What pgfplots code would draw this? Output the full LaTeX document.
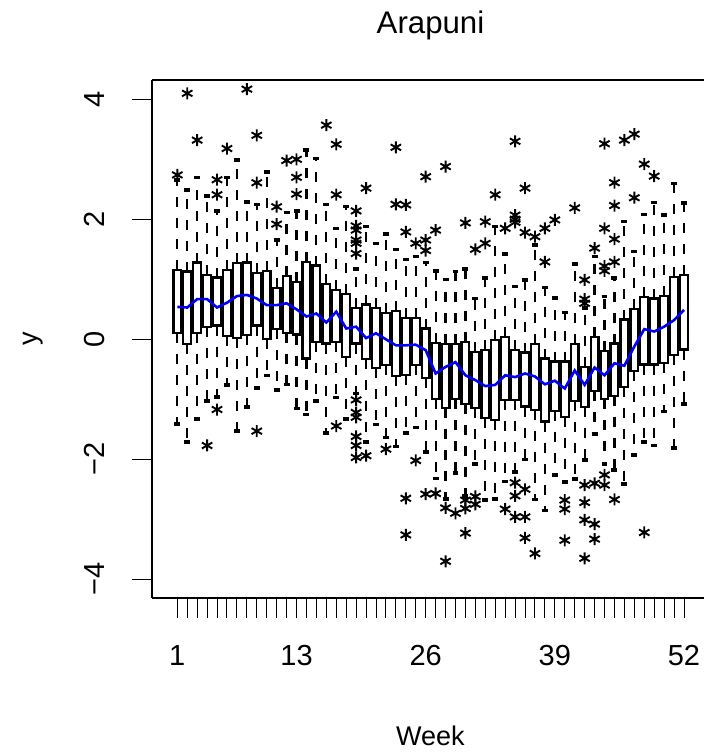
\documentclass[border=0pt]{standalone}
\usepackage{fontspec}
\setmainfont{Liberation Sans}
\usepackage{pgfplots}
\pgfplotsset{compat=1.18}
\usepgfplotslibrary{statistics}
\usepackage{pgfplotstable}

\pgfplotstableread{
week y
1 2.74
2 4.1
3 3.32
4 -1.77
5 2.66
5 2.41
5 -1.17
6 3.18
8 4.17
9 3.4
9 2.61
9 -1.53
11 2.21
11 1.92
12 2.98
13 3.0
13 2.7
13 2.42
16 3.57
17 3.25
17 2.41
17 -1.445
19 2.14
19 1.89
19 1.82
19 1.655
19 1.6
19 1.43
19 -1.01
19 -1.22
19 -1.3
19 -1.62
19 -1.77
19 -1.97
20 2.52
20 -1.94
22 -1.83
23 3.2
23 2.25
24 2.24
24 1.79
24 -2.65
24 -3.26
25 1.6
25 -2.02
26 2.71
26 1.655
26 1.48
26 -2.58
27 1.82
27 -2.57
28 2.88
28 -2.81
28 -3.7
29 -2.9
30 1.94
30 -2.68
30 -2.82
30 -3.23
31 1.5
31 -2.62
31 -2.75
32 1.96
32 1.6
33 2.41
34 1.85
34 -2.83
35 3.3
35 2.07
35 2.0
35 1.95
35 -2.39
35 -2.61
35 -2.96
36 2.52
36 1.78
36 -2.5
36 -2.96
36 -3.31
37 1.71
37 -3.57
38 1.85
38 1.29
39 1.99
40 -2.68
40 -2.83
40 -3.35
41 2.19
42 0.99
42 0.67
42 0.6
42 -2.43
42 -2.72
42 -3.01
42 -3.65
43 1.52
43 -2.4
43 -3.08
43 -3.33
44 3.26
44 1.85
44 1.22
44 1.14
44 -2.26
44 -2.43
45 2.61
45 2.23
45 1.67
45 1.29
45 -2.67
46 3.32
47 3.42
47 2.36
48 2.92
48 -3.22
49 2.72
}\outliers

\pgfplotstableread{
week med
1 0.54
2 0.53
3 0.67
4 0.67
5 0.53
6 0.61
7 0.72
8 0.74
9 0.68
10 0.57
11 0.57
12 0.60
13 0.50
14 0.38
15 0.43
16 0.28
17 0.46
18 0.18
19 0.21
20 0.02
21 0.10
22 0.00
23 -0.10
24 -0.10
25 -0.09
26 -0.18
27 -0.57
28 -0.46
29 -0.38
30 -0.60
31 -0.68
32 -0.78
33 -0.76
34 -0.60
35 -0.63
36 -0.57
37 -0.62
38 -0.75
39 -0.69
40 -0.82
41 -0.52
42 -0.76
43 -0.47
44 -0.60
45 -0.40
46 -0.44
47 -0.12
48 0.17
49 0.13
50 0.21
51 0.32
52 0.49
}\medline

\pgfplotsset{
  rbox/.style={black, solid, line width=1.1pt, mark=none,
    boxplot/draw direction=y,
    boxplot/box extend=0.78,
    boxplot/whisker extend=0.6,
    boxplot/every box/.style={fill=white},
    boxplot/draw/median/.code={},
    boxplot/draw/lower whisker/.code={%
      \draw[line width=1.1pt, dash pattern=on 5pt off 5.5pt]
        (boxplot box cs:\pgfplotsboxplotvalue{lower quartile},0.5) --
        (boxplot box cs:\pgfplotsboxplotvalue{lower whisker},0.5);
      \draw[line width=1.7pt]
        (boxplot whisker cs:\pgfplotsboxplotvalue{lower whisker},0) --
        (boxplot whisker cs:\pgfplotsboxplotvalue{lower whisker},1);
    },
    boxplot/draw/upper whisker/.code={%
      \draw[line width=1.1pt, dash pattern=on 5pt off 5.5pt]
        (boxplot box cs:\pgfplotsboxplotvalue{upper quartile},0.5) --
        (boxplot box cs:\pgfplotsboxplotvalue{upper whisker},0.5);
      \draw[line width=1.7pt]
        (boxplot whisker cs:\pgfplotsboxplotvalue{upper whisker},0) --
        (boxplot whisker cs:\pgfplotsboxplotvalue{upper whisker},1);
    },
  }
}
\newcommand\bx[6]{\addplot[rbox, boxplot prepared={draw position=#1, lower whisker=#2, lower quartile=#3, median=#4, upper quartile=#5, upper whisker=#6}] coordinates {};}

\begin{document}
\begin{tikzpicture}
\useasboundingbox (-76pt,-77pt) rectangle (276pt,299pt);
\begin{axis}[
  scale only axis, width=276pt, height=259pt,
  at={(0,0)}, anchor=south west,
  xmin=-1.547, xmax=54.013, ymin=-4.312, ymax=4.322,
  axis x line*=box, axis y line*=left,
  axis line style={line width=0.65pt, black},
  xtick={1,13,26,39,52}, xticklabels={1,13,26,39,52},
  minor xtick={1,...,52},
  ytick={-4,-2,0,2,4}, yticklabels={−4,−2,0,2,4},
  tick align=outside, xtick pos=bottom, ytick pos=left,
  major tick length=10pt, minor tick length=10pt,
  every tick/.style={black, line width=0.5pt},
  minor tick style={black, line width=0.5pt},
  xticklabel style={font=\fontsize{14.5}{17}\selectfont, anchor=base, yshift=-23.5pt},
  yticklabel style={font=\fontsize{14.5}{17}\selectfont, xshift=-13.5pt, rotate=90, anchor=base},
  title={Arapuni},
  every axis title/.style={font=\fontsize{15.6}{18}\selectfont, at={(axis description cs:0.5045,1.0907)}, anchor=base},
  xlabel={Week},
  every axis x label/.style={font=\fontsize{13.5}{16}\selectfont, at={(axis description cs:0.5045,-0.2838)}, anchor=base},
  ylabel={y},
  every axis y label/.style={font=\fontsize{13.5}{16}\selectfont, at={(axis description cs:-0.2083,0.5)}, rotate=90, anchor=base},
]
\bx{1}{-1.41}{0.10}{0.54}{1.155}{2.655}
\bx{2}{-1.71}{-0.08}{0.53}{1.13}{2.49}
\bx{3}{-1.33}{0.11}{0.67}{1.28}{2.70}
\bx{4}{-1.03}{0.20}{0.67}{1.07}{2.39}
\bx{5}{-0.96}{0.23}{0.53}{1.03}{2.14}
\bx{6}{-0.76}{0.055}{0.61}{1.155}{2.70}
\bx{7}{-1.53}{0.02}{0.72}{1.27}{2.99}
\bx{8}{-1.13}{0.07}{0.74}{1.28}{2.29}
\bx{9}{-0.81}{0.23}{0.68}{1.10}{2.25}
\bx{10}{-0.60}{0.005}{0.57}{1.14}{2.79}
\bx{11}{-0.845}{0.17}{0.57}{0.86}{1.655}
\bx{12}{-0.75}{0.11}{0.60}{1.055}{2.11}
\bx{13}{-1.15}{0.08}{0.50}{0.96}{2.14}
\bx{14}{-1.25}{-0.32}{0.38}{1.29}{3.155}
\bx{15}{-1.03}{-0.04}{0.43}{1.23}{3.01}
\bx{16}{-1.56}{-0.07}{0.28}{0.92}{2.25}
\bx{17}{-0.97}{-0.05}{0.46}{0.82}{1.85}
\bx{18}{-1.33}{-0.29}{0.18}{0.75}{2.21}
\bx{19}{-0.90}{-0.07}{0.21}{0.52}{1.17}
\bx{20}{-1.71}{-0.33}{0.02}{0.58}{1.88}
\bx{21}{-1.42}{-0.48}{0.10}{0.52}{1.60}
\bx{22}{-1.64}{-0.43}{0.00}{0.44}{1.755}
\bx{23}{-1.79}{-0.61}{-0.10}{0.47}{1.50}
\bx{24}{-1.56}{-0.60}{-0.10}{0.36}{1.33}
\bx{25}{-1.47}{-0.43}{-0.09}{0.36}{1.38}
\bx{26}{-1.88}{-0.65}{-0.18}{0.18}{1.28}
\bx{27}{-2.32}{-1.00}{-0.57}{-0.06}{1.14}
\bx{28}{-2.66}{-1.14}{-0.46}{-0.08}{1.00}
\bx{29}{-2.23}{-1.00}{-0.38}{-0.08}{1.13}
\bx{30}{-2.61}{-1.08}{-0.60}{-0.05}{1.17}
\bx{31}{-2.08}{-1.15}{-0.68}{-0.21}{0.68}
\bx{32}{-2.68}{-1.31}{-0.78}{-0.18}{1.02}
\bx{33}{-2.66}{-1.35}{-0.76}{-0.01}{1.88}
\bx{34}{-2.37}{-1.01}{-0.60}{0.04}{1.42}
\bx{35}{-2.21}{-1.01}{-0.63}{-0.18}{0.88}
\bx{36}{-2.00}{-1.12}{-0.57}{-0.22}{0.99}
\bx{37}{-2.67}{-1.18}{-0.62}{-0.08}{1.57}
\bx{38}{-2.85}{-1.37}{-0.75}{-0.32}{0.86}
\bx{39}{-2.26}{-1.20}{-0.69}{-0.37}{0.69}
\bx{40}{-2.38}{-1.29}{-0.82}{-0.37}{0.45}
\bx{41}{-2.33}{-1.03}{-0.52}{-0.08}{1.255}
\bx{42}{-2.01}{-1.13}{-0.76}{-0.46}{0.52}
\bx{43}{-1.58}{-0.86}{-0.47}{0.04}{1.38}
\bx{44}{-2.08}{-1.00}{-0.60}{-0.19}{0.71}
\bx{45}{-2.18}{-0.94}{-0.40}{-0.07}{1.02}
\bx{46}{-2.41}{-0.79}{-0.44}{0.33}{1.96}
\bx{47}{-1.93}{-0.53}{-0.12}{0.50}{1.46}
\bx{48}{-1.71}{-0.42}{0.17}{0.70}{2.08}
\bx{49}{-1.77}{-0.42}{0.13}{0.68}{2.28}
\bx{50}{-1.20}{-0.40}{0.21}{0.72}{2.07}
\bx{51}{-1.81}{-0.26}{0.32}{1.04}{2.60}
\bx{52}{-1.08}{-0.17}{0.49}{1.07}{2.27}
\addplot[only marks, black, mark=asterisk, mark size=3pt, mark options={line width=0.95pt, solid}] table[x=week, y=y] {\outliers};
\addplot[blue, line width=1.3pt, mark=none] table[x=week, y=med] {\medline};
\end{axis}
\end{tikzpicture}
\end{document}
